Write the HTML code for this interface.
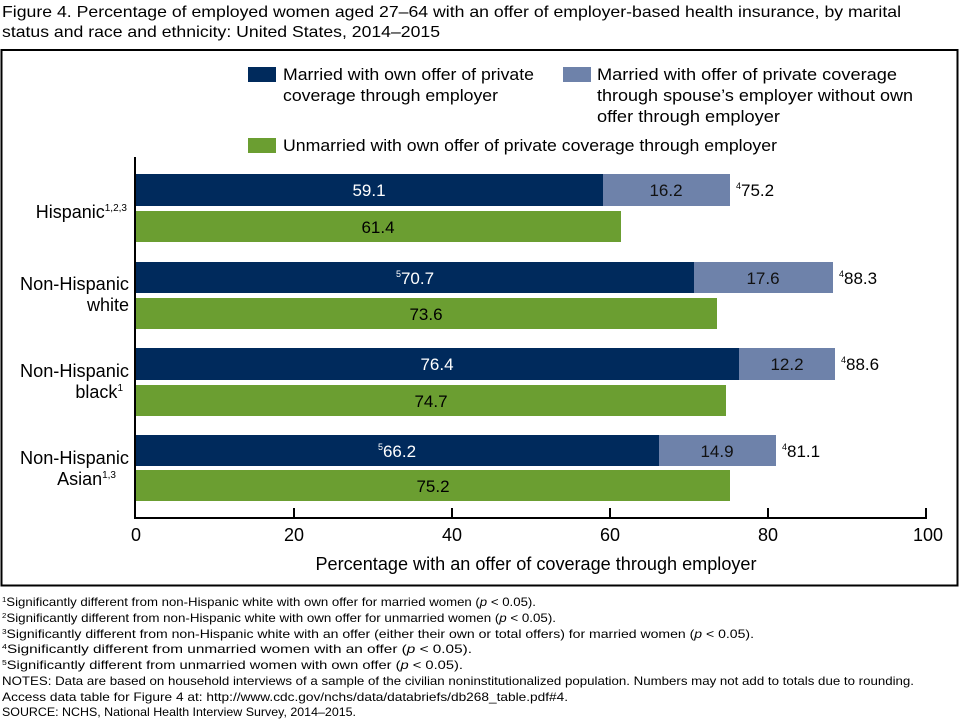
<!DOCTYPE html>
<html><head><meta charset="utf-8"><style>
body{margin:0;background:#fff}
svg{display:block;font-family:"Liberation Sans",sans-serif}
</style></head><body>
<svg width="960" height="720" viewBox="0 0 960 720" xmlns="http://www.w3.org/2000/svg">
<text x="2" y="17" font-size="16" textLength="899" lengthAdjust="spacingAndGlyphs">Figure 4. Percentage of employed women aged 27–64 with an offer of employer-based health insurance, by marital</text>
<text x="2" y="37" font-size="16" textLength="438" lengthAdjust="spacingAndGlyphs">status and race and ethnicity: United States, 2014–2015</text>
<rect x="1.5" y="50" width="956" height="535.5" fill="none" stroke="#000" stroke-width="2"/>
<!-- legend -->
<g font-size="17">
<rect x="248" y="67" width="28" height="15" fill="#002a5c"/>
<text x="283" y="80" textLength="251" lengthAdjust="spacingAndGlyphs">Married with own offer of private</text>
<text x="283" y="101" textLength="215" lengthAdjust="spacingAndGlyphs">coverage through employer</text>
<rect x="563" y="67" width="28" height="15" fill="#6e82aa"/>
<text x="597" y="80" textLength="300" lengthAdjust="spacingAndGlyphs">Married with offer of private coverage</text>
<text x="597" y="101" textLength="316" lengthAdjust="spacingAndGlyphs">through spouse’s employer without own</text>
<text x="597" y="122" textLength="183" lengthAdjust="spacingAndGlyphs">offer through employer</text>
<rect x="248" y="138" width="28" height="15" fill="#6b9e31"/>
<text x="283" y="151" textLength="494" lengthAdjust="spacingAndGlyphs">Unmarried with own offer of private coverage through employer</text>
</g>
<!-- bars -->
<g font-size="17">
<rect x="136" y="174" width="467" height="32" fill="#002a5c"/>
<rect x="603" y="174" width="127" height="32" fill="#6e82aa"/>
<rect x="136" y="211" width="485" height="31" fill="#6b9e31"/>
<text x="369" y="196" fill="#fff" text-anchor="middle">59.1</text>
<text x="666" y="196" fill="#111" text-anchor="middle">16.2</text>
<text x="736" y="196"><tspan font-size="9" dy="-7">4</tspan><tspan dy="7">75.2</tspan></text>
<text x="378" y="233" text-anchor="middle">61.4</text>
<rect x="136" y="262" width="558" height="31" fill="#002a5c"/>
<rect x="694" y="262" width="139" height="31" fill="#6e82aa"/>
<rect x="136" y="298" width="581" height="31" fill="#6b9e31"/>
<text x="415" y="284" fill="#fff" text-anchor="middle"><tspan font-size="9" dy="-7">5</tspan><tspan dy="7">70.7</tspan></text>
<text x="763" y="284" fill="#111" text-anchor="middle">17.6</text>
<text x="839" y="284"><tspan font-size="9" dy="-7">4</tspan><tspan dy="7">88.3</tspan></text>
<text x="426" y="320" text-anchor="middle">73.6</text>
<rect x="136" y="348" width="603" height="32" fill="#002a5c"/>
<rect x="739" y="348" width="96" height="32" fill="#6e82aa"/>
<rect x="136" y="385" width="590" height="31" fill="#6b9e31"/>
<text x="437" y="370" fill="#fff" text-anchor="middle">76.4</text>
<text x="787" y="370" fill="#111" text-anchor="middle">12.2</text>
<text x="841" y="370"><tspan font-size="9" dy="-7">4</tspan><tspan dy="7">88.6</tspan></text>
<text x="431" y="407" text-anchor="middle">74.7</text>
<rect x="136" y="435" width="523" height="31" fill="#002a5c"/>
<rect x="659" y="435" width="117" height="31" fill="#6e82aa"/>
<rect x="136" y="470" width="594" height="31" fill="#6b9e31"/>
<text x="397" y="457" fill="#fff" text-anchor="middle"><tspan font-size="9" dy="-7">5</tspan><tspan dy="7">66.2</tspan></text>
<text x="717" y="457" fill="#111" text-anchor="middle">14.9</text>
<text x="782" y="457"><tspan font-size="9" dy="-7">4</tspan><tspan dy="7">81.1</tspan></text>
<text x="433" y="492" text-anchor="middle">75.2</text>
</g>
<!-- y labels -->
<g font-size="18" text-anchor="end">
<text x="127" y="218">Hispanic<tspan font-size="10" dy="-7">1,2,3</tspan></text>
<text x="129" y="290" textLength="109" lengthAdjust="spacingAndGlyphs">Non-Hispanic</text>
<text x="129" y="311">white</text>
<text x="129" y="377" textLength="109" lengthAdjust="spacingAndGlyphs">Non-Hispanic</text>
<text x="123" y="398">black<tspan font-size="10" dy="-7">1</tspan></text>
<text x="129" y="464" textLength="109" lengthAdjust="spacingAndGlyphs">Non-Hispanic</text>
<text x="116" y="485">Asian<tspan font-size="10" dy="-7">1,3</tspan></text>
</g>
<!-- axes -->
<g stroke="#000" stroke-width="2">
<line x1="135" y1="157" x2="135" y2="519"/>
<line x1="134" y1="518" x2="927" y2="518"/>
<line x1="294" y1="508" x2="294" y2="518"/>
<line x1="452" y1="508" x2="452" y2="518"/>
<line x1="610" y1="508" x2="610" y2="518"/>
<line x1="768" y1="508" x2="768" y2="518"/>
<line x1="926" y1="508" x2="926" y2="518"/>
</g>
<g font-size="18" text-anchor="middle">
<text x="136" y="541">0</text><text x="294" y="541">20</text><text x="452" y="541">40</text>
<text x="610" y="541">60</text><text x="768" y="541">80</text><text x="928" y="541">100</text>
<text x="536" y="570" textLength="441" lengthAdjust="spacingAndGlyphs">Percentage with an offer of coverage through employer</text>
</g>
<!-- notes -->
<g font-size="12">
<text x="2" y="606" textLength="534" lengthAdjust="spacingAndGlyphs"><tspan font-size="7" dy="-4">1</tspan><tspan dy="4">Significantly different from non-Hispanic white with own offer for married women (</tspan><tspan font-style="italic">p</tspan> &lt; 0.05).</text>
<text x="2" y="622" textLength="554" lengthAdjust="spacingAndGlyphs"><tspan font-size="7" dy="-4">2</tspan><tspan dy="4">Significantly different from non-Hispanic white with own offer for unmarried women (</tspan><tspan font-style="italic">p</tspan> &lt; 0.05).</text>
<text x="2" y="638" textLength="752" lengthAdjust="spacingAndGlyphs"><tspan font-size="7" dy="-4">3</tspan><tspan dy="4">Significantly different from non-Hispanic white with an offer (either their own or total offers) for married women (</tspan><tspan font-style="italic">p</tspan> &lt; 0.05).</text>
<text x="2" y="653" textLength="470" lengthAdjust="spacingAndGlyphs"><tspan font-size="7" dy="-4">4</tspan><tspan dy="4">Significantly different from unmarried women with an offer (</tspan><tspan font-style="italic">p</tspan> &lt; 0.05).</text>
<text x="2" y="669" textLength="461" lengthAdjust="spacingAndGlyphs"><tspan font-size="7" dy="-4">5</tspan><tspan dy="4">Significantly different from unmarried women with own offer (</tspan><tspan font-style="italic">p</tspan> &lt; 0.05).</text>
<text x="2" y="685" textLength="912" lengthAdjust="spacingAndGlyphs">NOTES: Data are based on household interviews of a sample of the civilian noninstitutionalized population. Numbers may not add to totals due to rounding.</text>
<text x="2" y="701" textLength="566" lengthAdjust="spacingAndGlyphs">Access data table for Figure 4 at: http://www.cdc.gov/nchs/data/databriefs/db268_table.pdf#4.</text>
<text x="2" y="716" textLength="354" lengthAdjust="spacingAndGlyphs">SOURCE: NCHS, National Health Interview Survey, 2014–2015.</text>
</g>
</svg>
</body></html>
